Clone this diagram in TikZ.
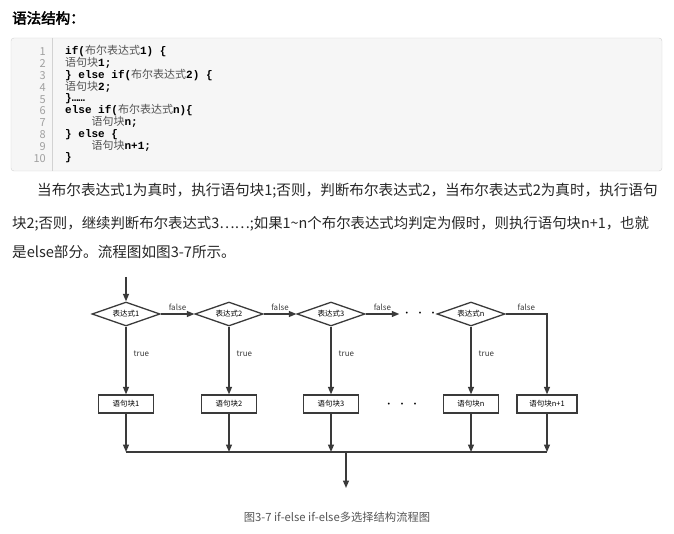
\documentclass[tikz,border=0pt]{standalone}
\usepackage{fontspec}
\usepackage{tikz}
\usetikzlibrary{positioning, arrows.meta, shapes.geometric}
\setmainfont{Noto Sans CJK SC}
\setmonofont{Liberation Mono}
\newfontfamily\zhfont{Noto Sans CJK SC}
\newfontfamily\zhboldfont{Noto Sans CJK SC}[FakeBold=2.5]
\definecolor{cLine}{HTML}{3A3A3A}
\definecolor{cCodeBg}{HTML}{F6F6F6}
\definecolor{cCodeRule}{HTML}{D2D2D2}
\definecolor{cNum}{HTML}{A0A0A0}
\definecolor{cZh}{HTML}{555555}
\definecolor{cCap}{HTML}{555555}
\newcommand{\zh}[1]{{\zhfont\mdseries\color{cZh}#1}}

\begin{document}
\begin{tikzpicture}[x=1pt, y=-1pt,
    codeln/.style={anchor=west, inner sep=0pt, text height=8pt, text depth=2.5pt,
      font=\ttfamily\bfseries\fontsize{11}{12}\selectfont},
    para/.style={anchor=west, inner sep=0pt, text height=10pt, text depth=3pt,
      font=\fontsize{14.6}{16}\selectfont, text=black!85},
    cond/.style={diamond, draw=cLine, line width=1.3pt, inner sep=0pt, shape aspect=2.8,
      minimum width=68pt, minimum height=24pt, font=\fontsize{7.5}{8}\selectfont},
    block/.style={rectangle, draw=cLine, line width=1.3pt, inner sep=0pt,
      minimum width=55pt, minimum height=18pt, font=\fontsize{7.5}{8}\selectfont},
    lbl/.style={font=\fontsize{8}{9}\selectfont, text=cLine, inner sep=1pt},
    flow/.style={draw=cLine, line width=1.3pt, -{Triangle[length=7.5pt, width=6pt]}}]
  \useasboundingbox (0,0) rectangle (674,534);

  % title and code listing
  \node[anchor=west, inner sep=0pt, font=\zhboldfont\fontsize{14.5}{16}\selectfont] (title) at (12,18) {语法结构：};
  \draw[draw=cCodeRule, fill=cCodeBg, rounded corners=3pt] (11,38) rectangle (662,171);
  \draw[cCodeRule] (52,38) -- (52,171);
  \foreach \i in {1,...,10}
    \node[anchor=east, inner sep=0pt, text=cNum, font=\zhfont\fontsize{11}{12}\selectfont]
      (n\i) at (46,{52+(\i-1)*11.8}) {\i};
  \node[codeln] (c1) at (65,52) {if(\zh{布尔表达式}1) \{};
  \node[codeln] (c2) at (65,63.8) {\zh{语句块}1;};
  \node[codeln] (c3) at (65,75.6) {\} else if(\zh{布尔表达式}2) \{};
  \node[codeln] (c4) at (65,87.4) {\zh{语句块}2;};
  \node[codeln] (c5) at (65,99.2) {\}……};
  \node[codeln] (c6) at (65,111) {else if(\zh{布尔表达式}n)\{};
  \node[codeln] (c7) at (91.4,122.8) {\zh{语句块}n;};
  \node[codeln] (c8) at (65,134.6) {\} else \{};
  \node[codeln] (c9) at (91.4,146.4) {\zh{语句块}n+1;};
  \node[codeln] (c10) at (65,158.2) {\}};

  % paragraph
  \node[para] (p1) at (37,192) {当布尔表达式1为真时，执行语句块1;否则，判断布尔表达式2，当布尔表达式2为真时，执行语句};
  \node[para, font=\fontsize{14.4}{16}\selectfont] (p2) at (12,225) {块2;否则，继续判断布尔表达式3……;如果1\textasciitilde n个布尔表达式均判定为假时，则执行语句块n+1，也就};
  \node[para] (p3) at (12,254) {是else部分。流程图如图3-7所示。};

  % flow chart
  \coordinate (start) at (126,277);
  \node[cond] (d1) at (126,314) {表达式1};
  \node[cond] (d2) at (229,314) {表达式2};
  \node[cond] (d3) at (331,314) {表达式3};
  \node[inner sep=0pt, font=\fontsize{9}{9}\selectfont] (dotsA) at (420,314) {·\ \ ·\ \ ·};
  \node[cond] (dn) at (471,314) {表达式n};
  \node[block] (b1) at (126,404) {语句块1};
  \node[block] (b2) at (229,404) {语句块2};
  \node[block] (b3) at (331,404) {语句块3};
  \node[inner sep=0pt, font=\fontsize{9}{9}\selectfont] (dotsB) at (402,405) {·\ \ ·\ \ ·};
  \node[block] (bn) at (471,404) {语句块n};
  \node[block, minimum width=60pt] (bn1) at (547,404) {语句块n+1};
  \coordinate (mL) at (126,452);
  \coordinate (mR) at (547,452);
  \coordinate (mC) at (346,452);
  \coordinate (stop) at (346,488);

  \draw[flow] (start) -- (d1.north);
  \draw[flow] (d1.east) -- node[lbl, above=2pt] {false} (d2.west);
  \draw[flow] (d2.east) -- node[lbl, above=2pt] {false} (d3.west);
  \draw[flow] (d3.east) -- node[lbl, above=2pt] {false} ([xshift=-3pt]dotsA.west);
  \draw[flow] (dn.east) -| node[lbl, above=2pt, pos=0.25] {false} (bn1.north);
  \foreach \k in {1,2,3,n}
    \draw[flow] (d\k.south) -- node[lbl, right=6pt, pos=0.4] {true} (b\k.north);
  \foreach \k in {1,2,3,n,n1}
    \draw[flow] (b\k.south) -- (b\k.south |- mL);
  \draw[cLine, line width=1.3pt] (mL) -- (mR);
  \draw[flow] (mC) -- (stop);

  \node[font=\fontsize{11.3}{12}\selectfont, text=cCap] (cap) at (337,517) {图3-7 if-else if-else多选择结构流程图};
\end{tikzpicture}
\end{document}
